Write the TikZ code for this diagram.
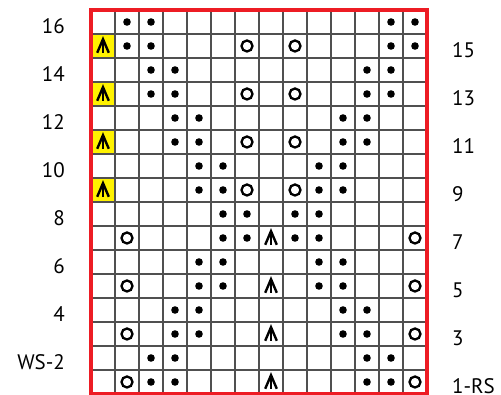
\documentclass[tikz,border=0pt]{standalone}
\usepackage{fontspec}
\setmainfont{PT Sans}
\usepackage{xcolor}
\usepackage{tikz}
\definecolor{chartred}{RGB}{237,28,36}
\definecolor{cddyellow}{RGB}{255,242,0}
\definecolor{gridgray}{RGB}{80,80,80}

\begin{document}
\begin{tikzpicture}[
    x=24pt, y=24pt,
    rownum/.style={font=\fontsize{21}{24}\selectfont, inner sep=0pt, text depth=0pt},
    purl/.style={fill=black},
    yo/.style={draw=black, line width=2.3pt},
    cdd/.style={draw=black, line width=2.4pt, line join=miter}
]
\useasboundingbox (-91pt,-1pt) rectangle (410pt,394pt);

% yellow edge cells
\foreach \r in {15,13,11,9}
    \fill[cddyellow] (0,\r-1) rectangle (1,\r);

\draw[gridgray, line width=1.4pt, step=1] (0,0) grid (14,16);
\draw[chartred, line width=3.8pt] (0,0) rectangle (14,16);

% purl stitches
\foreach \r/\a in {16/2,15/2,14/3,13/3,12/4,11/4,10/5,9/5,
                   8/6,7/6,6/5,5/5,4/4,3/4,2/3,1/3} {
    \foreach \c in {\a, \a+1, 15-\a, 16-\a}
        \fill[purl] (\c-0.5, \r-0.5) circle (3.8pt);
}

% yarn overs
\foreach \c/\r in {7/15,9/15,7/13,9/13,7/11,9/11,7/9,9/9,
                   2/7,14/7,2/5,14/5,2/3,14/3,2/1,14/1}
    \draw[yo] (\c-0.5, \r-0.5) circle (5.5pt);

% centred double decreases
\foreach \c/\r in {1/15,1/13,1/11,1/9,8/7,8/5,8/3,8/1} {
    \draw[cdd] ([shift={(-5.8pt,-6.8pt)}]\c-0.5,\r-0.5) -- ++(5.8pt,13.6pt) -- ++(5.8pt,-13.6pt);
    \draw[cdd] ([shift={(0pt,6.8pt)}]\c-0.5,\r-0.5) -- ++(0pt,-13.6pt);
}

% row numbers
\foreach \r/\txt in {16/16,14/14,12/12,10/10,8/8,6/6,4/4,2/WS-2}
    \node[rownum, anchor=base east] (left\r) at (-1.08, \r-0.97) {\txt};
\foreach \r/\txt in {15/15,13/13,11/11,9/9,7/7,5/5,3/3,1/1-RS}
    \node[rownum, anchor=base west] (right\r) at (15.04, \r-0.97) {\txt};

\end{tikzpicture}
\end{document}
